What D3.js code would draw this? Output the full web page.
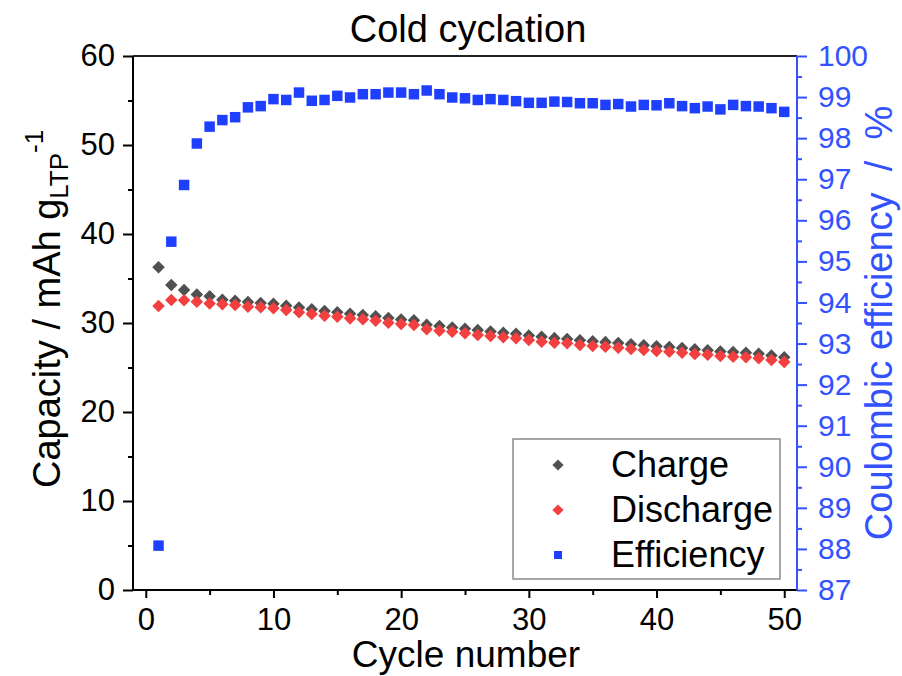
<!DOCTYPE html>
<html>
<head>
<meta charset="utf-8">
<script src="https://cdn.jsdelivr.net/npm/d3@7"></script>
<style>
  body { margin: 0; background: #fff; }
  svg { display: block; font-family: Arial, "Liberation Sans", sans-serif; }
</style>
</head>
<body>
<script>
// data
let cycles = [1, 2, 3, 4, 5, 6, 7, 8, 9, 10, 11, 12, 13, 14, 15, 16, 17, 18, 19, 20,
    21, 22, 23, 24, 25, 26, 27, 28, 29, 30, 31, 32, 33, 34, 35, 36, 37, 38, 39, 40,
    41, 42, 43, 44, 45, 46, 47, 48, 49, 50];

let charge = [36.26, 34.27, 33.7, 33.2, 33.0, 32.6, 32.5, 32.35, 32.25, 32.15,
    31.95, 31.75, 31.55, 31.35, 31.2, 31.05, 30.9, 30.75, 30.55, 30.4,
    30.3, 29.8, 29.65, 29.5, 29.35, 29.2, 29.05, 28.9, 28.8, 28.6,
    28.45, 28.3, 28.2, 28.05, 27.95, 27.85, 27.75, 27.6, 27.5, 27.4,
    27.3, 27.2, 27.05, 26.95, 26.8, 26.75, 26.65, 26.55, 26.35, 26.14];

let discharge = [31.9, 32.58, 32.55, 32.4, 32.2, 32.1, 32.02, 31.83, 31.76, 31.65,
    31.46, 31.2, 31.01, 30.82, 30.71, 30.52, 30.41, 30.26, 30.03, 29.89,
    29.78, 29.29, 29.13, 29.02, 28.84, 28.65, 28.54, 28.39, 28.28, 28.09,
    27.9, 27.79, 27.72, 27.53, 27.42, 27.34, 27.23, 27.08, 26.97, 26.85,
    26.78, 26.67, 26.52, 26.44, 26.29, 26.21, 26.14, 26.03, 25.84, 25.62];

let efficiency = [88.08, 95.48, 96.86, 97.87, 98.28, 98.44, 98.51, 98.75, 98.78, 98.95,
    98.93, 99.11, 98.91, 98.93, 99.03, 98.99, 99.07, 99.07, 99.11, 99.11,
    99.07, 99.16, 99.07, 98.99, 98.97, 98.93, 98.95, 98.93, 98.90, 98.86,
    98.86, 98.89, 98.88, 98.85, 98.85, 98.81, 98.83, 98.77, 98.81, 98.80,
    98.85, 98.78, 98.73, 98.77, 98.70, 98.81, 98.78, 98.77, 98.73, 98.64];

let xTicks = [0, 10, 20, 30, 40, 50];
let xMinor = [5, 15, 25, 35, 45];
let yTicks = [0, 10, 20, 30, 40, 50, 60];
let yMinor = [5, 15, 25, 35, 45, 55];
let effTicks = [87, 88, 89, 90, 91, 92, 93, 94, 95, 96, 97, 98, 99, 100];
let effMinor = [87.5, 88.5, 89.5, 90.5, 91.5, 92.5, 93.5, 94.5, 95.5, 96.5, 97.5, 98.5, 99.5];

let legendItems = ["Charge", "Discharge", "Efficiency"];

let grey = "#505050", red = "#f23f3f", blue = "#1f3fff", axisBlue = "#3352ff";

// canvas
let margin = {top: 56, right: 105, bottom: 86, left: 133},
    width = 902 - margin.left - margin.right,
    height = 676 - margin.top - margin.bottom;

let svg = d3.select("body").append("svg")
    .attr("width", 902)
    .attr("height", 676);

let g = svg.append("g")
    .attr("transform", "translate(" + margin.left + "," + margin.top + ")");

// scales
let x = d3.scaleLinear().domain([-1, 51]).range([0, width]);
let y = d3.scaleLinear().domain([0, 60]).range([height, 0]);
let y2 = d3.scaleLinear().domain([87, 100]).range([height, 0]);

// left axis
g.append("g")
    .call(d3.axisLeft(y).tickValues(yTicks).tickSize(10).tickPadding(8).tickSizeOuter(0))
    .call(a => a.select(".domain").remove())
    .call(a => a.selectAll("line").attr("stroke", "#000").attr("stroke-width", 2))
    .call(a => a.selectAll("text").style("font-size", "31px").attr("fill", "#000"));

g.append("g")
    .call(d3.axisLeft(y).tickValues(yMinor).tickSize(5).tickFormat(""))
    .call(a => a.select(".domain").remove())
    .call(a => a.selectAll("line").attr("stroke", "#000").attr("stroke-width", 2));

// bottom axis
g.append("g")
    .attr("transform", "translate(0," + height + ")")
    .call(d3.axisBottom(x).tickValues(xTicks).tickSize(8).tickPadding(10).tickSizeOuter(0))
    .call(a => a.select(".domain").remove())
    .call(a => a.selectAll("line").attr("stroke", "#000").attr("stroke-width", 2))
    .call(a => a.selectAll("text").style("font-size", "31px").attr("fill", "#000"));

g.append("g")
    .attr("transform", "translate(0," + height + ")")
    .call(d3.axisBottom(x).tickValues(xMinor).tickSize(5).tickFormat(""))
    .call(a => a.select(".domain").remove())
    .call(a => a.selectAll("line").attr("stroke", "#000").attr("stroke-width", 2));

// right axis (efficiency)
g.append("g")
    .attr("transform", "translate(" + width + ",0)")
    .call(d3.axisRight(y2).tickValues(effTicks).tickSize(10).tickPadding(11).tickSizeOuter(0))
    .call(a => a.select(".domain").remove())
    .call(a => a.selectAll("line").attr("stroke", axisBlue).attr("stroke-width", 2))
    .call(a => a.selectAll("text").style("font-size", "30px").attr("fill", axisBlue));

g.append("g")
    .attr("transform", "translate(" + width + ",0)")
    .call(d3.axisRight(y2).tickValues(effMinor).tickSize(5).tickFormat(""))
    .call(a => a.select(".domain").remove())
    .call(a => a.selectAll("line").attr("stroke", axisBlue).attr("stroke-width", 2));

// frame
g.append("line").attr("x1", 0).attr("x2", width).attr("y1", 0).attr("y2", 0)
    .attr("stroke", "#222").attr("stroke-width", 2);
g.append("line").attr("x1", 0).attr("x2", width).attr("y1", height).attr("y2", height)
    .attr("stroke", "#000").attr("stroke-width", 2);
g.append("line").attr("x1", 0).attr("x2", 0).attr("y1", 0).attr("y2", height)
    .attr("stroke", "#000").attr("stroke-width", 2);
g.append("line").attr("x1", width).attr("x2", width).attr("y1", 0).attr("y2", height)
    .attr("stroke", axisBlue).attr("stroke-width", 2);

// markers
let diamond = d3.symbol().type(d3.symbolDiamond2).size(100);
let square = d3.symbol().type(d3.symbolSquare).size(110);

g.selectAll(".eff")
    .data(cycles)
    .enter().append("path")
    .attr("class", "eff")
    .attr("d", square)
    .attr("transform", (d, i) => "translate(" + x(d) + "," + y2(efficiency[i]) + ")")
    .attr("fill", blue);

g.selectAll(".chg")
    .data(cycles)
    .enter().append("path")
    .attr("class", "chg")
    .attr("d", diamond)
    .attr("transform", (d, i) => "translate(" + x(d) + "," + y(charge[i]) + ")")
    .attr("fill", grey);

g.selectAll(".dis")
    .data(cycles)
    .enter().append("path")
    .attr("class", "dis")
    .attr("d", diamond)
    .attr("transform", (d, i) => "translate(" + x(d) + "," + y(discharge[i]) + ")")
    .attr("fill", red);

// legend
let legend = svg.append("g").attr("transform", "translate(513,439)");
legend.append("rect")
    .attr("width", 267)
    .attr("height", 140)
    .attr("fill", "#fff")
    .attr("stroke", "#8a8a8a")
    .attr("stroke-width", 1.5);

let legendColors = [grey, red, blue];
let legendShapes = [d3.symbol().type(d3.symbolDiamond2).size(80), d3.symbol().type(d3.symbolDiamond2).size(80),
    d3.symbol().type(d3.symbolSquare).size(64)];

legendItems.forEach((name, i) => {
    legend.append("path")
        .attr("d", legendShapes[i])
        .attr("transform", "translate(45," + (26 + i * 45) + ")")
        .attr("fill", legendColors[i]);
    legend.append("text")
        .attr("x", 98)
        .attr("y", 38 + i * 45)
        .style("font-size", "36px")
        .attr("fill", "#000")
        .text(name);
});

// title
svg.append("text")
    .attr("x", 468)
    .attr("y", 42)
    .attr("text-anchor", "middle")
    .style("font-size", "38px")
    .text("Cold cyclation");

// x axis title
svg.append("text")
    .attr("x", 466)
    .attr("y", 667)
    .attr("text-anchor", "middle")
    .style("font-size", "37px")
    .text("Cycle number");

// left axis title
let yTitle = svg.append("text")
    .attr("transform", "translate(60,488) rotate(-90)")
    .style("font-size", "38px")
    .style("white-space", "pre");
yTitle.append("tspan").text("Capacity / mAh g");
yTitle.append("tspan").attr("dy", 8).style("font-size", "26px").text("LTP");
yTitle.append("tspan").attr("dy", -25).style("font-size", "26px").text("-1");

// right axis title
svg.append("text")
    .attr("transform", "translate(892,323) rotate(-90)")
    .attr("text-anchor", "middle")
    .style("font-size", "38px")
    .style("white-space", "pre")
    .attr("fill", axisBlue)
    .text("Coulombic efficiency  /  %");
</script>
</body>
</html>
